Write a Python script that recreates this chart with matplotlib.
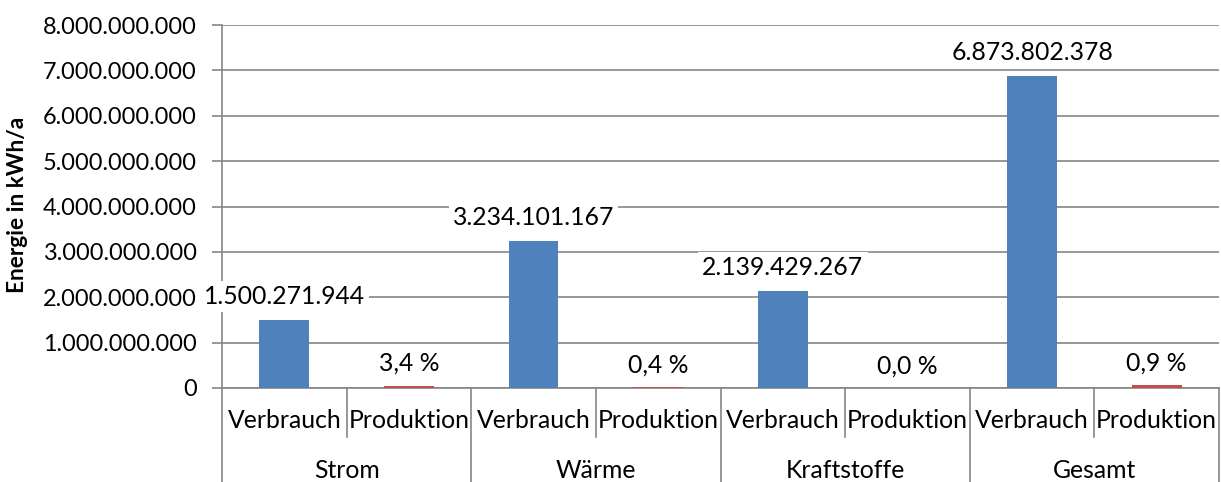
import matplotlib
matplotlib.use("Agg")
import matplotlib.pyplot as plt
from matplotlib.ticker import FuncFormatter

groups = ["Strom", "Wärme", "Kraftstoffe", "Gesamt"]
subcats = ["Verbrauch", "Produktion"]
verbrauch = [1500271944, 3234101167, 2139429267, 6873802378]
produktion_pct = [3.4, 0.4, 0.0, 0.9]
produktion = [v * p / 100 for v, p in zip(verbrauch, produktion_pct)]
verbrauch_labels = ["1.500.271.944", "3.234.101.167", "2.139.429.267", "6.873.802.378"]
produktion_labels = ["3,4 %", "0,4 %", "0,0 %", "0,9 %"]
yticks = [0, 1e9, 2e9, 3e9, 4e9, 5e9, 6e9, 7e9, 8e9]

plt.rcParams['font.family'] = ['Lato', 'DejaVu Sans']
FS = 17.8
GRID = "#868686"

fig = plt.figure(figsize=(12.21, 4.82), dpi=100)
H = 482; W = 1221
ax = fig.add_axes([222 / W, 1 - 388 / H, (1219 - 222) / W, (388 - 25) / H])

xv = [2 * i for i in range(4)]
xp = [2 * i + 1 for i in range(4)]
ax.bar(xv, verbrauch, width=0.4, color="#4F81BD", zorder=3)
ax.bar(xp, produktion, width=0.4, color="#C0504D", zorder=3)

ax.set_xlim(-0.5, 7.5)
ax.set_ylim(0, 8e9)
ax.set_yticks(yticks)
ax.yaxis.set_major_formatter(FuncFormatter(lambda v, p: f"{int(v):,}".replace(",", ".")))
ax.tick_params(axis="y", labelsize=16.9, length=7, color=GRID, width=1.2, pad=11)
ax.set_xticks([])
ax.grid(axis="y", color=GRID, linewidth=1.2, zorder=0)
for s in ["top", "right"]:
    ax.spines[s].set_visible(False)
ax.spines["left"].set_color(GRID)
ax.spines["left"].set_linewidth(1.2)
ax.spines["bottom"].set_color(GRID)
ax.spines["bottom"].set_linewidth(1.2)

fig.text(18 / W, 1 - 205 / H, "Energie in kWh/a", rotation=90, ha="center", va="center",
         fontsize=16.3, fontweight="bold")

bbox = dict(facecolor="white", edgecolor="none", pad=3)
for x, v, lab in zip(xv, verbrauch, verbrauch_labels):
    ax.annotate(lab, (x, v), xytext=(0, 17), textcoords="offset points",
                ha="center", va="center", fontsize=FS, bbox=bbox, zorder=5)
for x, v, lab in zip(xp, produktion, produktion_labels):
    ax.annotate(lab, (x, v), xytext=(0, 16), textcoords="offset points",
                ha="center", va="center", fontsize=FS, bbox=bbox, zorder=5)

axh = 388 - 25
tr = ax.get_xaxis_transform()
for i in range(4):
    for j, sc in enumerate(subcats):
        ax.text(2 * i + j, -32 / axh, sc, transform=tr, ha="center", va="center", fontsize=FS)
    ax.text(2 * i + 0.5, -82 / axh, groups[i], transform=tr, ha="center", va="center", fontsize=FS)
    ax.plot([2 * i + 0.5, 2 * i + 0.5], [0, -49 / axh], transform=tr, color=GRID, lw=1.2, clip_on=False)
for b in [-0.5, 1.5, 3.5, 5.5, 7.5]:
    ax.plot([b, b], [0, -100 / axh], transform=tr, color=GRID, lw=1.2, clip_on=False)

fig.savefig("out.png", dpi=100)
